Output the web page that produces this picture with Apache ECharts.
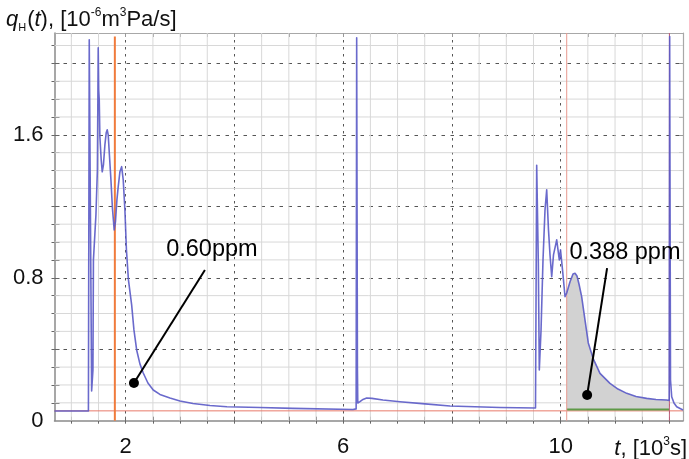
<!DOCTYPE html>
<html>
<head>
<meta charset="utf-8">
<script src="https://cdn.jsdelivr.net/npm/echarts@6/dist/echarts.min.js"></script>
<style>
html,body{margin:0;padding:0;background:#fff;}
#c{width:689px;height:459px;}
</style>
</head>
<body>
<div id="c"></div>
<script>
// ---- data (t in 10^3 s, q in 10^-6 m^3 Pa/s) ----
const traceT = [0.69, 1.314, 1.329, 1.373, 1.397, 1.406, 1.452, 1.479, 1.494, 1.503, 1.513, 1.525, 1.549, 1.568, 1.590, 1.617, 1.641, 1.660, 1.678, 1.700, 1.728, 1.755, 1.788, 1.811, 1.838, 1.862, 1.893, 1.925,
  1.954, 1.985, 2.013, 2.050, 2.109, 2.151, 2.201, 2.261, 2.322, 2.408, 2.506, 2.629, 2.813, 2.997, 3.236, 3.549, 3.862, 4.469, 5.076, 6.180,
  6.238, 6.248, 6.262, 6.268, 6.308, 6.364, 6.432, 6.529, 6.731, 7.044, 7.504, 7.964, 8.884, 9.537,
  9.550, 9.559, 9.589, 9.607, 9.639, 9.675, 9.712, 9.743, 9.776, 9.804, 9.835, 9.868, 9.927, 9.975, 9.997, 10.034, 10.080, 10.111,
  10.172, 10.227, 10.264, 10.300, 10.337, 10.386, 10.447, 10.508, 10.600, 10.723, 10.907, 11.054, 11.215, 11.386, 11.582, 11.754, 11.950, 11.996,
  12.005, 12.020, 12.042, 12.084, 12.134, 12.250];
const traceQ = [0.054, 0.054, 2.132, 0.166, 0.284, 0.900, 1.152, 1.403, 2.087, 1.852, 1.796, 1.588, 1.460, 1.393, 1.432, 1.544, 1.611, 1.628, 1.600, 1.488, 1.348, 1.191, 1.068, 1.113, 1.236, 1.310, 1.393, 1.422,
  1.348, 1.180, 0.956, 0.788, 0.648, 0.508, 0.396, 0.318, 0.267, 0.211, 0.172, 0.147, 0.127, 0.110, 0.096, 0.085, 0.078, 0.074, 0.069, 0.063,
  0.066, 2.143, 0.284, 0.099, 0.107, 0.119, 0.127, 0.125, 0.116, 0.106, 0.094, 0.082, 0.074, 0.071,
  0.071, 1.43, 0.883, 0.284, 0.508, 0.900, 1.180, 1.292, 1.068, 0.928, 0.806, 0.928, 1.012, 0.900, 0.956, 0.844, 0.694, 0.715,
  0.778, 0.821, 0.825, 0.810, 0.765, 0.694, 0.564, 0.435, 0.346, 0.265, 0.209, 0.177, 0.153, 0.135, 0.125, 0.119, 0.116, 0.113,
  2.15, 0.228, 0.134, 0.099, 0.078, 0.060];

const baselineQ = 0.055;        // red baseline
const integBaseQ = 0.062;       // green baseline of integrated area
const integStart = 10.111, integEnd = 11.996;
const orangeT = 1.80;
const redLinesT = [10.111, 12.0];

const xRange = [0.69, 12.25];
const yRange = [0, 2.17];
const xMinor = [1, 1.5, 2.5, 3, 3.5, 4.5, 5, 5.5, 6.5, 7, 7.5, 8.5, 9, 9.5, 10.5, 11, 11.5];
const xMajor = [2, 4, 6, 8, 10, 12];
const xLabels = [2, 6, 10];
const yMinor = [0.1, 0.2, 0.3, 0.5, 0.6, 0.7, 0.9, 1.0, 1.1, 1.3, 1.4, 1.5, 1.7, 1.8, 1.9, 2.1];
const yMajor = [0.4, 0.8, 1.2, 1.6, 2.0];
const yLabels = [0, 0.8, 1.6];

const noteText = ['0.60ppm', '0.388 ppm'];
const noteTextPos = [[3.585, 0.956], [11.183, 0.944]];
const noteFrom = [[3.457, 0.843], [10.854, 0.854]];
const noteTo = [[2.151, 0.211], [10.487, 0.144]];

// ---- build ----
const FONT = '"Liberation Sans", Arial, sans-serif';
const trace = traceT.map((t, i) => [t, traceQ[i]]);
const integ = trace.filter(p => p[0] >= integStart && p[0] <= integEnd);
const allXTicks = xMinor.concat(xMajor).sort((a, b) => a - b);
const allYTicks = yMinor.concat(yMajor).sort((a, b) => a - b);

// minor grid as one broken polyline (null gaps between segments)
const minorGrid = [];
xMinor.forEach(v => { minorGrid.push([v, yRange[0]], [v, yRange[1]], [v, null]); });
yMinor.forEach(v => { minorGrid.push([xRange[0], v], [xRange[1], v], [null, v]); });

function xAx(o) {
  return Object.assign({
    type: 'value', min: xRange[0], max: xRange[1], position: 'bottom',
    axisLine: { show: false, onZero: false },
    axisTick: { show: false },
    axisLabel: { show: false },
    splitLine: { show: false }
  }, o);
}
function yAx(o) {
  return Object.assign({
    type: 'value', min: yRange[0], max: yRange[1], position: 'left',
    axisLine: { show: false, onZero: false },
    axisTick: { show: false },
    axisLabel: { show: false },
    splitLine: { show: false }
  }, o);
}

const vline = (t, top) => [[t, yRange[0]], [t, top]];

const option = {
  animation: false,
  backgroundColor: '#fff',
  grid: { left: 54.5, right: 6, top: 33, bottom: 38.3, containLabel: false },
  xAxis: [
    xAx({
      axisLine: { show: true, onZero: false, lineStyle: { color: '#8a8a8a', width: 1.5 } },
      axisTick: { show: true, customValues: allXTicks, length: 3, lineStyle: { color: '#666' } },
      axisLabel: { show: true, customValues: xLabels, fontSize: 22, color: '#111', fontFamily: FONT, margin: 15 }
    }),
    xAx({ axisTick: { show: true, length: 0, customValues: xMajor }, splitLine: { show: true, lineStyle: { color: '#555', width: 1, type: [2.5, 4.5] } } }),
    xAx({ axisTick: { show: true, inside: true, customValues: allXTicks, length: 4, lineStyle: { color: '#666' } } }),
    xAx({ position: 'top',
      axisLine: { show: true, onZero: false, lineStyle: { color: '#a8a8a8', width: 1.2 } },
      axisTick: { show: true, inside: true, customValues: allXTicks, length: 4, lineStyle: { color: '#999' } } })
  ],
  yAxis: [
    yAx({
      axisLine: { show: true, onZero: false, lineStyle: { color: '#8a8a8a', width: 1.5 } },
      axisTick: { show: true, customValues: allYTicks, length: 3, lineStyle: { color: '#666' } },
      axisLabel: { show: true, customValues: yLabels, fontSize: 22, color: '#111', fontFamily: FONT, margin: 11 }
    }),
    yAx({ axisTick: { show: true, length: 0, customValues: yMajor }, splitLine: { show: true, lineStyle: { color: '#555', width: 1, type: [3.5, 5.5] } } }),
    yAx({ axisTick: { show: true, inside: true, customValues: allYTicks, length: 5, lineStyle: { color: '#666' } } }),
    yAx({ position: 'right',
      axisLine: { show: true, onZero: false, lineStyle: { color: '#a8a8a8', width: 1.2 } },
      axisTick: { show: true, inside: true, customValues: allYTicks, length: 4, lineStyle: { color: '#999' } } })
  ],
  series: [
    // minor grid lines
    { type: 'line', data: minorGrid, symbol: 'none', connectNulls: false, silent: true, z: 1,
      lineStyle: { color: '#d8d8d8', width: 1 } },
    { type: 'line', data: integ, showSymbol: false, symbol: 'none',
      lineStyle: { width: 0 }, areaStyle: { color: '#d2d2d2', opacity: 1, origin: integBaseQ }, z: 2 },
    { type: 'line', data: [[xRange[0], baselineQ], [xRange[1], baselineQ]], symbol: 'none',
      lineStyle: { color: '#e87a6a', width: 1 }, z: 3 },
    { type: 'line', data: [[integStart, integBaseQ], [integEnd, integBaseQ]], symbol: 'none',
      lineStyle: { color: '#5f9a48', width: 2 }, z: 3 },
    { type: 'line', data: vline(orangeT, 2.15), symbol: 'none',
      lineStyle: { color: '#f07b3c', width: 2 }, z: 3 },
    { type: 'line', data: vline(redLinesT[0], yRange[1]), symbol: 'none',
      lineStyle: { color: '#e89a90', width: 1 }, z: 3 },
    { type: 'line', data: vline(redLinesT[1], yRange[1]), symbol: 'none',
      lineStyle: { color: '#c0607a', width: 1 }, z: 3 },
    { type: 'line', data: trace, symbol: 'none',
      lineStyle: { color: '#5a5ac6', width: 1.6, opacity: 0.9, join: 'round' }, z: 4 },
    // annotations
    { type: 'line', data: [noteFrom[0], noteTo[0]], symbol: 'none', lineStyle: { color: '#000', width: 2 }, z: 5 },
    { type: 'line', data: [noteFrom[1], noteTo[1]], symbol: 'none', lineStyle: { color: '#000', width: 2 }, z: 5 },
    { type: 'scatter', data: noteTo, symbol: 'circle', symbolSize: 10, itemStyle: { color: '#000', opacity: 1 }, z: 6 },
    { type: 'scatter', symbolSize: 0, z: 6, itemStyle: { opacity: 1 },
      data: noteTextPos.map((p, i) => ({ value: p, name: noteText[i] })),
      label: { show: true, position: 'inside', formatter: p => p.name, fontSize: 23.5, color: '#000', opacity: 1, fontFamily: FONT } }
  ],
  graphic: [
    { type: 'text', left: 6, top: 4, z: 10,
      style: {
        text: '{i|q}{sub|H}{n|(}{i|t}{n|), [10}{sup|-6}{n|m}{sup|3}{n|Pa/s]}',
        rich: {
          i: { fontSize: 22, fontStyle: 'italic', fontFamily: FONT, fill: '#111', lineHeight: 27, verticalAlign: 'bottom' },
          n: { fontSize: 22, fontFamily: FONT, fill: '#111', lineHeight: 27, verticalAlign: 'bottom' },
          sub: { fontSize: 11, fontFamily: FONT, fill: '#111', lineHeight: 27, verticalAlign: 'bottom', padding: [0, 1, -2, 0] },
          sup: { fontSize: 12, fontFamily: FONT, fill: '#111', lineHeight: 27, verticalAlign: 'top', padding: [3, 0, 0, 0] }
        }
      } },
    { type: 'text', right: 2, top: 433, z: 10,
      style: {
        text: '{i|t}{n|, [10}{sup|3}{n|s]}',
        rich: {
          i: { fontSize: 22, fontStyle: 'italic', fontFamily: FONT, fill: '#111', lineHeight: 27, verticalAlign: 'bottom' },
          n: { fontSize: 22, fontFamily: FONT, fill: '#111', lineHeight: 27, verticalAlign: 'bottom' },
          sup: { fontSize: 12, fontFamily: FONT, fill: '#111', lineHeight: 27, verticalAlign: 'top', padding: [3, 0, 0, 0] }
        }
      } }
  ]
};

const chart = echarts.init(document.getElementById('c'), null, { renderer: 'canvas' });
chart.setOption(option);
</script>
</body>
</html>
